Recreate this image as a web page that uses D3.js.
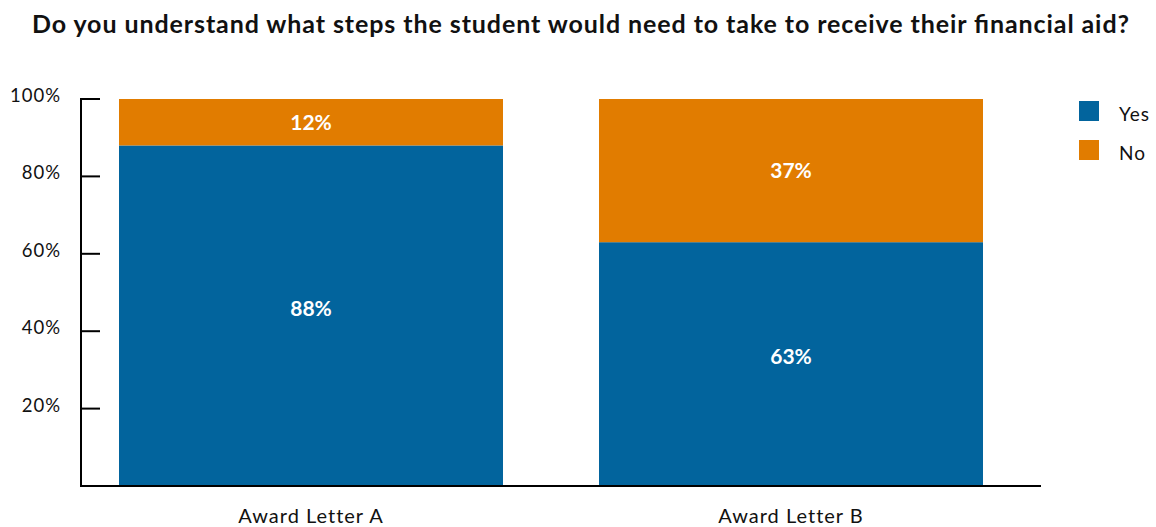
<!DOCTYPE html>
<html><head><meta charset="utf-8">
<script src="https://cdn.jsdelivr.net/npm/d3@7"></script>
<style>body{margin:0;background:#fff}svg{display:block}text{font-family:Lato,"Noto Sans",sans-serif}</style>
</head><body><svg id="c" width="1156" height="527"></svg>
<script>
const title = "Do you understand what steps the student would need to take to receive their financial aid?";
const categories = ["Award Letter A", "Award Letter B"];
const seriesNames = ["Yes", "No"];
const yesValues = [88, 63];
const noValues = [12, 37];
const yTicks = [20, 40, 60, 80, 100];
const colors = ["#02649d", "#e17c00"];

const svg = d3.select("#c");
const x = d3.scaleBand().domain(categories).range([119, 983]).paddingInner(0.2).paddingOuter(0);
const y = d3.scaleLinear().domain([0, 100]).range([486, 99]);

svg.append("text").attr("x", 32).attr("y", 33)
  .attr("font-size", 25).attr("font-weight", "bold").attr("fill", "#111")
  .attr("textLength", 1097).attr("lengthAdjust", "spacing").text(title);

const rows = categories.map((c, i) => ({cat: c, Yes: yesValues[i], No: noValues[i]}));
const stacked = d3.stack().keys(seriesNames)(rows);

const g = svg.append("g");
const labelShift = [0, 7.5];
stacked.forEach((s, si) => {
  g.selectAll(null).data(s).join("rect")
    .attr("x", d => x(d.data.cat)).attr("width", x.bandwidth())
    .attr("y", d => y(d[1])).attr("height", d => y(d[0]) - y(d[1]))
    .attr("fill", colors[si]);
  g.selectAll(null).data(s).join("text")
    .attr("x", d => x(d.data.cat) + x.bandwidth() / 2)
    .attr("y", d => (y(d[0]) + y(d[1])) / 2 + labelShift[si])
    .attr("text-anchor", "middle").attr("fill", "#fff").attr("font-size", 21).attr("font-weight", "bold")
    .text(d => (d[1] - d[0]) + "%");
});

// y axis
const yAxis = svg.append("g");
yAxis.append("line").attr("x1", 81).attr("x2", 81).attr("y1", y(100)).attr("y2", y(0)).attr("stroke", "#000").attr("stroke-width", 2);
yAxis.selectAll(null).data(yTicks).join("line")
  .attr("x1", 80).attr("x2", 100).attr("y1", d => y(d)).attr("y2", d => y(d)).attr("stroke", "#000").attr("stroke-width", 2);
yAxis.selectAll(null).data(yTicks).join("text")
  .attr("x", 61).attr("y", d => y(d) + 3).attr("text-anchor", "end").attr("font-size", 18.5)
  .attr("letter-spacing", 1).attr("fill", "#111")
  .text(d => d + "%");
// x axis
svg.append("line").attr("x1", 80).attr("x2", 1041).attr("y1", y(0)).attr("y2", y(0)).attr("stroke", "#000").attr("stroke-width", 2);
svg.selectAll(null).data(categories).join("text")
  .attr("x", d => x(d) + x.bandwidth() / 2).attr("y", 523).attr("text-anchor", "middle")
  .attr("font-size", 20).attr("letter-spacing", 1).attr("fill", "#111").text(d => d);

// legend
const lg = svg.append("g");
seriesNames.forEach((n, i) => {
  lg.append("rect").attr("x", 1079).attr("y", 101 + i * 39).attr("width", 20).attr("height", 20).attr("fill", colors[i]);
  lg.append("text").attr("x", 1119).attr("y", 121 + i * 39).attr("font-size", 19).attr("letter-spacing", 1)
    .attr("fill", "#111").text(n);
});
</script></body></html>
